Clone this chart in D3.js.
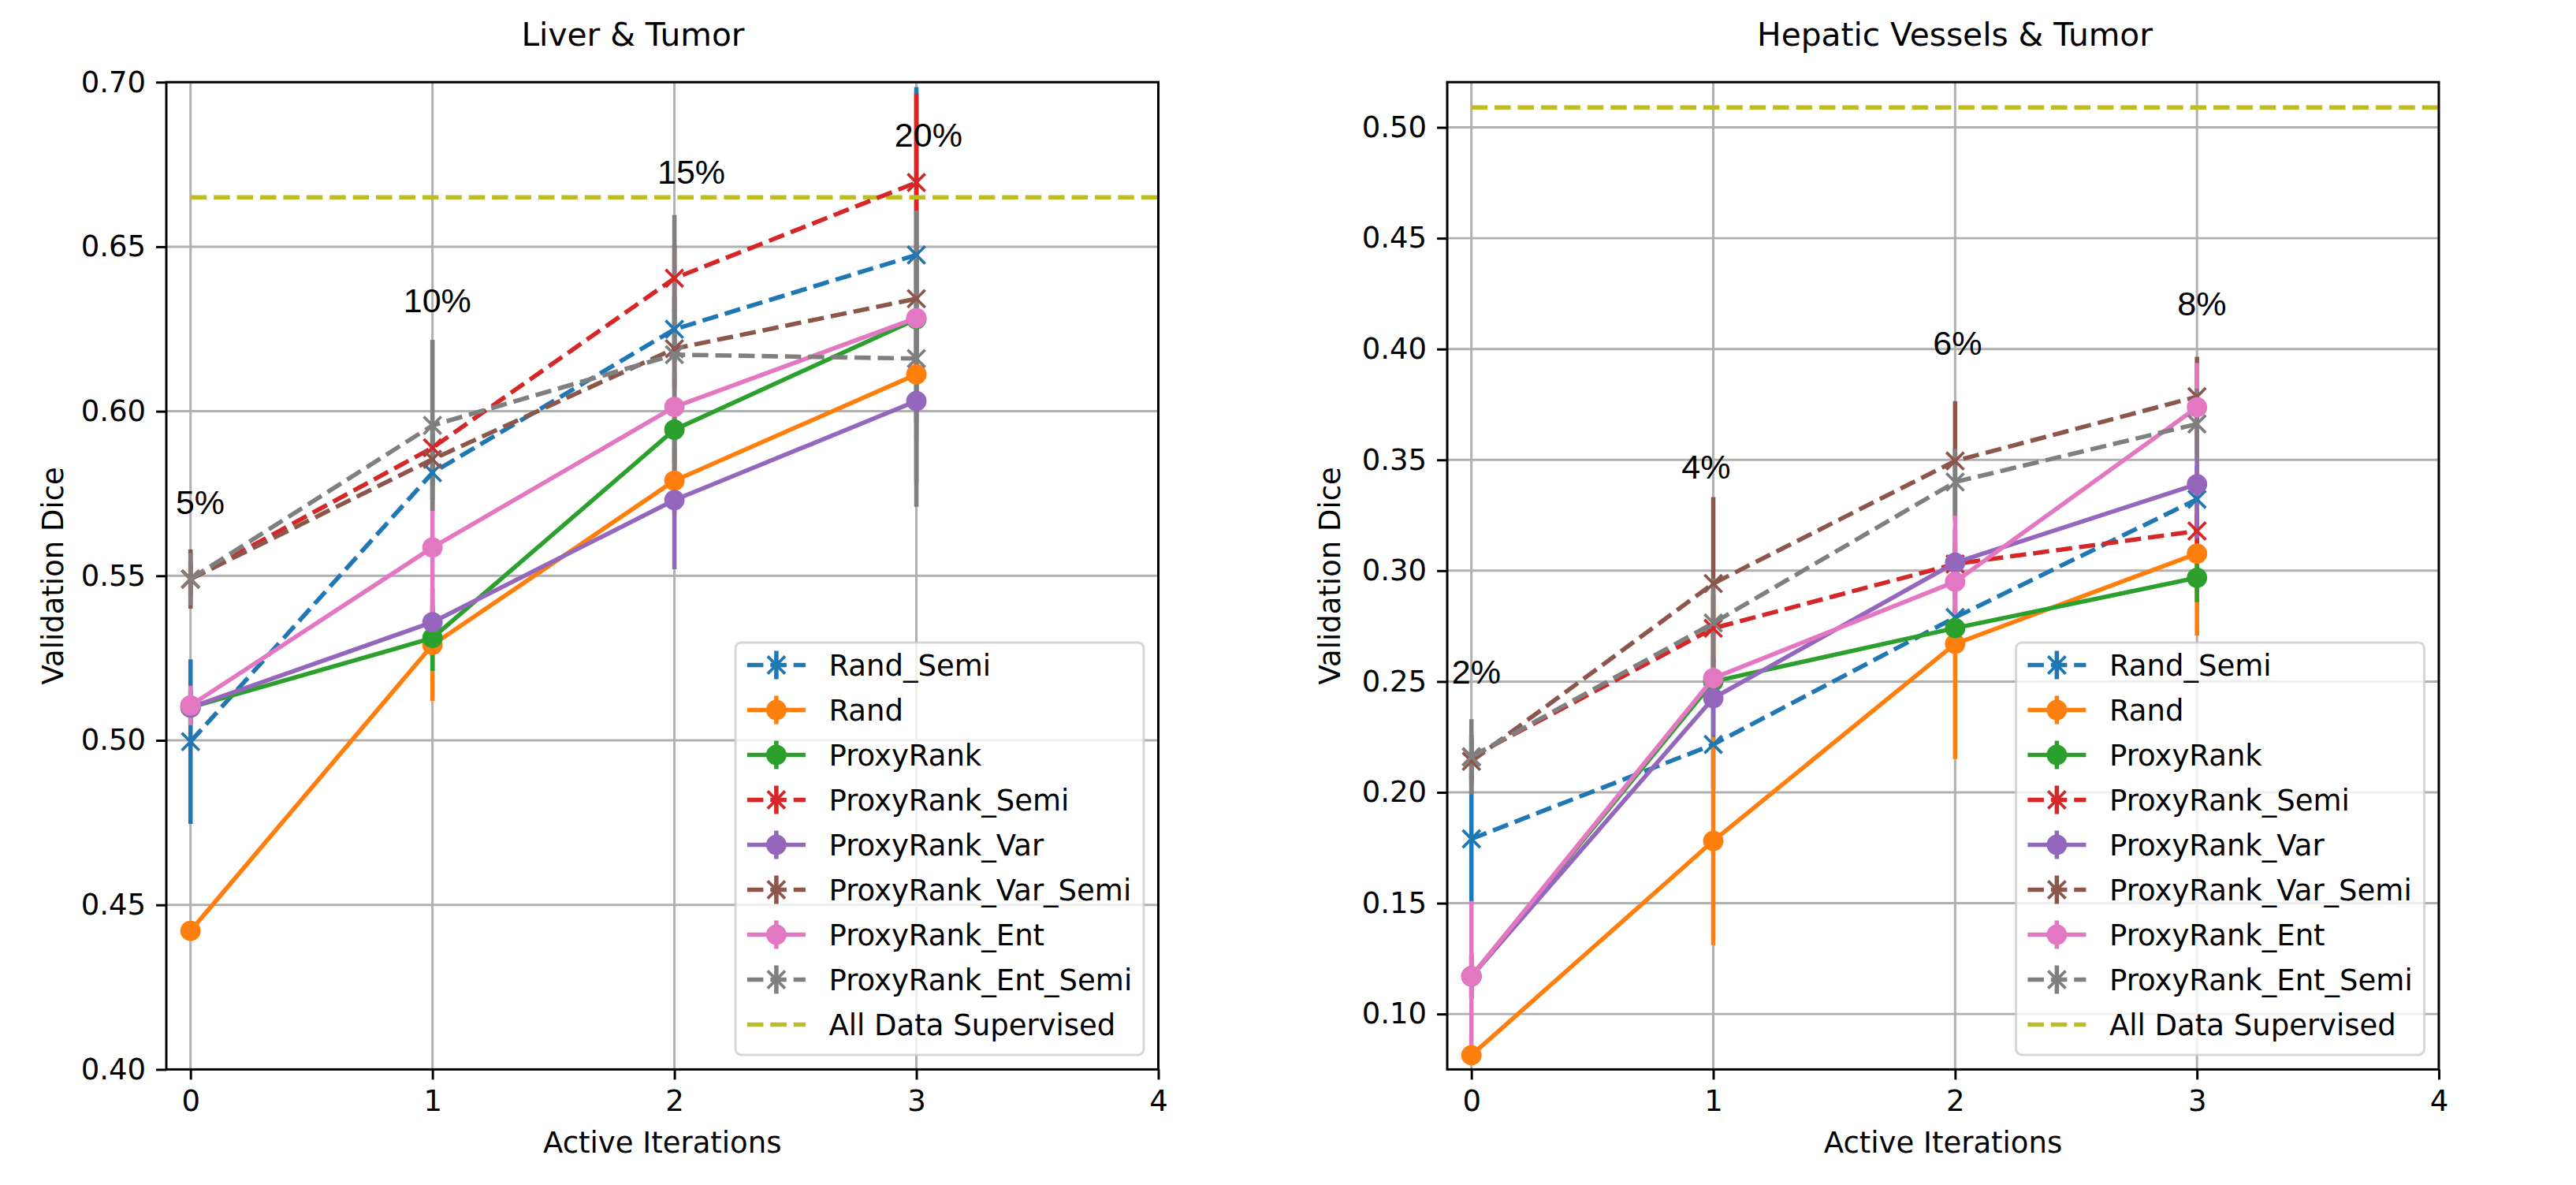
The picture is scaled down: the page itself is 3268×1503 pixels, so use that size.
<!DOCTYPE html>
<html><head><meta charset="utf-8">
<script src="https://cdn.jsdelivr.net/npm/d3@7"></script>
<style>body{margin:0;background:#fff} svg{display:block}</style>
</head><body><svg id="chart" width="3268" height="1503"></svg>
<script>
// ---------------- data ----------------
const iterations = [0, 1, 2, 3];
const xTicks = [0, 1, 2, 3, 4];
const seriesNames = ["Rand_Semi", "Rand", "ProxyRank", "ProxyRank_Semi", "ProxyRank_Var", "ProxyRank_Var_Semi", "ProxyRank_Ent", "ProxyRank_Ent_Semi"];
const seriesColors = ["#1f77b4", "#ff7f0e", "#2ca02c", "#d62728", "#9467bd", "#8c564b", "#e377c2", "#7f7f7f"];
const seriesSemi = [true, false, false, true, false, true, false, true];
const allDataLabel = "All Data Supervised";
const allDataColor = "#bcbd22";

// Liver & Tumor
const liverTitle = "Liver & Tumor";
const liverMeans = [
  [0.4996, 0.5813, 0.6249, 0.6475],
  [0.4421, 0.5290, 0.5789, 0.6112],
  [0.5100, 0.5311, 0.5944, 0.6280],
  [0.5490, 0.5889, 0.6404, 0.6695],
  [0.5100, 0.5359, 0.5730, 0.6031],
  [0.5490, 0.5854, 0.6190, 0.6342],
  [0.5106, 0.5586, 0.6013, 0.6283],
  [0.5490, 0.5957, 0.6172, 0.6160]
];
const liverErrs = [
  [0.025, 0.008, 0.010, 0.051],
  [0.003, 0.017, 0.010, 0.020],
  [0.005, 0.010, 0.010, 0.015],
  [0.005, 0.008, 0.010, 0.027],
  [0.005, 0.004, 0.021, 0.025],
  [0.009, 0.008, 0.012, 0.015],
  [0.006, 0.022, 0.010, 0.020],
  [0.008, 0.026, 0.0424, 0.045]
];
const liverAllData = 0.665;
const liverYTicks = [0.40, 0.45, 0.50, 0.55, 0.60, 0.65, 0.70];
const liverBudgetLabels = ["5%", "10%", "15%", "20%"];
const liverBudgetX = [0.04, 1.02, 2.07, 3.05];
const liverBudgetY = [0.5688, 0.6301, 0.6691, 0.6805];

// Hepatic Vessels & Tumor
const hepaticTitle = "Hepatic Vessels & Tumor";
const hepaticMeans = [
  [0.1790, 0.2216, 0.2789, 0.3322],
  [0.0814, 0.1781, 0.2670, 0.3077],
  [0.1170, 0.2500, 0.2741, 0.2968],
  [0.2160, 0.2740, 0.3030, 0.3179],
  [0.1170, 0.2425, 0.3036, 0.3390],
  [0.2140, 0.2942, 0.3495, 0.3785],
  [0.1170, 0.2515, 0.2950, 0.3737],
  [0.2160, 0.2764, 0.3400, 0.3662]
];
const hepaticErrs = [
  [0.029, 0.020, 0.015, 0.015],
  [0.003, 0.047, 0.052, 0.037],
  [0.010, 0.010, 0.010, 0.011],
  [0.010, 0.015, 0.010, 0.008],
  [0.010, 0.017, 0.015, 0.0245],
  [0.010, 0.039, 0.027, 0.018],
  [0.034, 0.010, 0.030, 0.020],
  [0.017, 0.020, 0.015, 0.016]
];
const hepaticAllData = 0.509;
const hepaticYTicks = [0.10, 0.15, 0.20, 0.25, 0.30, 0.35, 0.40, 0.45, 0.50];
const hepaticBudgetLabels = ["2%", "4%", "6%", "8%"];
const hepaticBudgetX = [0.02, 0.97, 2.01, 3.02];
const hepaticBudgetY = [0.249, 0.3415, 0.3973, 0.4151];

// ---------------- drawing ----------------
const W = 3268, H = 1503;
const PT = 3.7;                 // px per point
const LW = 1.5 * PT;            // line width
const DASH = [3.7 * 1.5 * PT, 1.6 * 1.5 * PT].join(",");
const FONT = "DejaVu Sans";
const ANN_FONT = "Liberation Sans, Arial, sans-serif";
const FS = 10 * PT;

const svg = d3.select("#chart");
svg.append("rect").attr("width", W).attr("height", H).attr("fill", "#fff");
const defs = svg.append("defs");

function drawMarker(sel, cx, cy, semi, color) {
  const r = 3 * PT;
  if (semi) {
    sel.append("path")
      .attr("d", `M${cx - r},${cy - r}L${cx + r},${cy + r}M${cx - r},${cy + r}L${cx + r},${cy - r}`)
      .attr("stroke", color).attr("stroke-width", PT).attr("fill", "none");
  } else {
    sel.append("circle").attr("cx", cx).attr("cy", cy).attr("r", r)
      .attr("fill", color).attr("stroke", color).attr("stroke-width", PT);
  }
}

function drawPanel(p, idx) {
  const x = d3.scaleLinear().domain([-0.1, 4]).range([p.left, p.right]);
  const y = d3.scaleLinear().domain(p.yDomain).range([p.bottom, p.top]);
  const clipId = "clip" + idx;
  defs.append("clipPath").attr("id", clipId).append("rect")
    .attr("x", p.left).attr("y", p.top).attr("width", p.right - p.left).attr("height", p.bottom - p.top);
  const g = svg.append("g");

  // grid
  const grid = g.append("g").attr("clip-path", `url(#${clipId})`);
  grid.selectAll("line.vx").data(xTicks).join("line").attr("class", "vx")
    .attr("x1", d => x(d)).attr("x2", d => x(d)).attr("y1", p.top).attr("y2", p.bottom)
    .attr("stroke", "#b0b0b0").attr("stroke-width", 0.8 * PT);
  grid.selectAll("line.hy").data(p.yTicks).join("line").attr("class", "hy")
    .attr("y1", d => y(d)).attr("y2", d => y(d)).attr("x1", p.left).attr("x2", p.right)
    .attr("stroke", "#b0b0b0").attr("stroke-width", 0.8 * PT);

  // error bars (below all data lines)
  const eb = g.append("g").attr("clip-path", `url(#${clipId})`);
  p.means.forEach((m, s) => {
    eb.append("g").selectAll("line").data(iterations).join("line")
      .attr("x1", i => x(i)).attr("x2", i => x(i))
      .attr("y1", i => y(m[i] - p.errs[s][i])).attr("y2", i => y(m[i] + p.errs[s][i]))
      .attr("stroke", seriesColors[s]).attr("stroke-width", LW);
  });

  // all data supervised line
  g.append("line").attr("clip-path", `url(#${clipId})`)
    .attr("x1", x(0)).attr("x2", x(4)).attr("y1", y(p.allData)).attr("y2", y(p.allData))
    .attr("stroke", allDataColor).attr("stroke-width", LW).attr("stroke-dasharray", DASH);

  // data lines + markers
  const lineGen = d3.line().x((d, i) => x(iterations[i])).y(d => y(d));
  const lines = g.append("g").attr("clip-path", `url(#${clipId})`);
  p.means.forEach((m, s) => {
    const sg = lines.append("g");
    sg.append("path").attr("d", lineGen(m)).attr("fill", "none")
      .attr("stroke", seriesColors[s]).attr("stroke-width", LW)
      .attr("stroke-linejoin", "round")
      .attr("stroke-dasharray", seriesSemi[s] ? DASH : null);
    m.forEach((v, i) => drawMarker(sg, x(iterations[i]), y(v), seriesSemi[s], seriesColors[s]));
  });

  // spines
  g.append("rect").attr("x", p.left).attr("y", p.top).attr("width", p.right - p.left).attr("height", p.bottom - p.top)
    .attr("fill", "none").attr("stroke", "#000").attr("stroke-width", 0.8 * PT);

  // axes
  const ya = g.append("g").attr("transform", `translate(${p.left},0)`)
    .call(d3.axisLeft(y).tickValues(p.yTicks).tickFormat(d3.format(".2f")).tickSize(3.5 * PT).tickPadding(3.5 * PT));
  const xa = g.append("g").attr("transform", `translate(0,${p.bottom})`)
    .call(d3.axisBottom(x).tickValues(xTicks).tickFormat(d3.format("d")).tickSize(3.5 * PT).tickPadding(3.5 * PT));
  [ya, xa].forEach(a => {
    a.select(".domain").remove();
    a.selectAll(".tick line").attr("stroke", "#000").attr("stroke-width", 0.8 * PT);
    a.selectAll(".tick text").attr("font-family", FONT).attr("font-size", FS).attr("fill", "#000");
  });

  // labels
  g.append("text").attr("x", (p.left + p.right) / 2).attr("y", 1462).attr("text-anchor", "middle")
    .attr("font-family", FONT).attr("font-size", FS).attr("fill", "#000").text("Active Iterations");
  g.append("text").attr("transform", `translate(${p.ylabelX},${(p.top + p.bottom) / 2}) rotate(-90)`)
    .attr("text-anchor", "middle").attr("font-family", FONT).attr("font-size", FS).attr("fill", "#000")
    .text("Validation Dice");
  g.append("text").attr("x", p.titleX).attr("y", 58).attr("text-anchor", "middle")
    .attr("font-family", FONT).attr("font-size", 11 * PT).attr("fill", "#000").text(p.title);

  // budget annotations
  p.budgetLabels.forEach((t, i) => {
    g.append("text").attr("x", x(p.budgetX[i])).attr("y", y(p.budgetY[i])).attr("text-anchor", "middle")
      .attr("font-family", ANN_FONT).attr("font-size", 43).attr("fill", "#000").text(t);
  });

  // legend
  const lg = svg.append("g");
  const labels = seriesNames.concat([allDataLabel]);
  let maxW = 0;
  const probe = lg.append("g");
  probe.selectAll("text").data(labels).join("text").attr("font-family", FONT).attr("font-size", FS).text(d => d)
    .each(function () { maxW = Math.max(maxW, this.getComputedTextLength()); });
  probe.remove();
  const pad = 0.4 * FS, handleW = 2 * FS, textPad = 0.8 * FS, rowH = 57;
  const boxW = pad + handleW + textPad + maxW + pad;
  const boxH = 523;
  const boxR = p.right - 0.5 * FS, boxB = p.bottom - 0.5 * FS;
  const boxL = boxR - boxW, boxT = boxB - boxH;
  lg.append("rect").attr("x", boxL).attr("y", boxT).attr("width", boxW).attr("height", boxH)
    .attr("rx", 0.2 * FS).attr("ry", 0.2 * FS)
    .attr("fill", "#fff").attr("fill-opacity", 0.8)
    .attr("stroke", "#cccccc").attr("stroke-opacity", 0.8).attr("stroke-width", 0.8 * PT);
  labels.forEach((lab, i) => {
    const cy = boxT + 28.6 + i * rowH;
    const hx = boxL + pad;
    const row = lg.append("g");
    if (i < seriesNames.length) {
      const c = seriesColors[i];
      row.append("line").attr("x1", hx + handleW / 2).attr("x2", hx + handleW / 2).attr("y1", cy - 18).attr("y2", cy + 18)
        .attr("stroke", c).attr("stroke-width", LW);
      row.append("line").attr("x1", hx).attr("x2", hx + handleW).attr("y1", cy).attr("y2", cy)
        .attr("stroke", c).attr("stroke-width", LW).attr("stroke-dasharray", seriesSemi[i] ? DASH : null);
      drawMarker(row, hx + handleW / 2, cy, seriesSemi[i], c);
    } else {
      row.append("line").attr("x1", hx).attr("x2", hx + handleW).attr("y1", cy).attr("y2", cy)
        .attr("stroke", allDataColor).attr("stroke-width", LW).attr("stroke-dasharray", DASH);
    }
    row.append("text").attr("x", hx + handleW + textPad).attr("y", cy + 0.36 * FS)
      .attr("font-family", FONT).attr("font-size", FS).attr("fill", "#000").text(lab);
  });
}

drawPanel({
  left: 211, right: 1469.5, top: 104.2, bottom: 1356.4, yDomain: [0.40, 0.70], yTicks: liverYTicks,
  means: liverMeans, errs: liverErrs, allData: liverAllData, title: liverTitle, titleX: 803, ylabelX: 80,
  budgetLabels: liverBudgetLabels, budgetX: liverBudgetX, budgetY: liverBudgetY
}, 0);
drawPanel({
  left: 1836, right: 3094, top: 104.2, bottom: 1356.4, yDomain: [0.075, 0.5204], yTicks: hepaticYTicks,
  means: hepaticMeans, errs: hepaticErrs, allData: hepaticAllData, title: hepaticTitle, titleX: 2480, ylabelX: 1700,
  budgetLabels: hepaticBudgetLabels, budgetX: hepaticBudgetX, budgetY: hepaticBudgetY
}, 1);
</script>
</body></html>
